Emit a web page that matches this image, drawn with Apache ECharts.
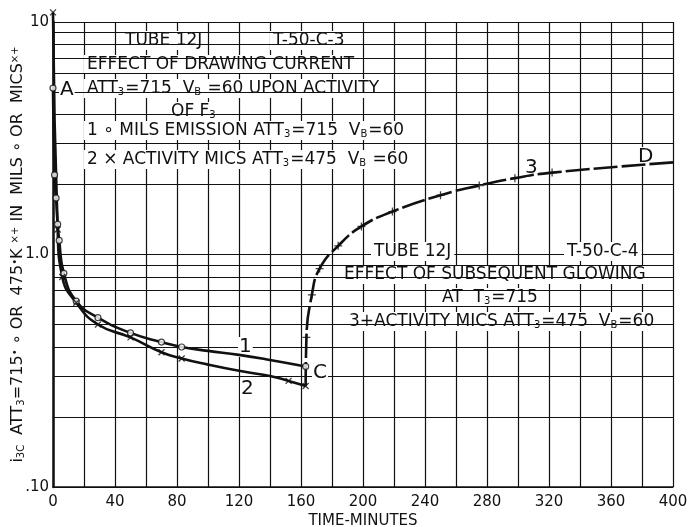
<!DOCTYPE html>
<html>
<head>
<meta charset="utf-8">
<script src="https://cdn.jsdelivr.net/npm/echarts@6/dist/echarts.min.js"></script>
<style>
  html, body { margin: 0; padding: 0; background: #fff; }
  #chart { width: 691px; height: 527px; }
</style>
</head>
<body>
<div id="chart"></div>
<script>
  // curve 1: mils emission
  var time1 = [0, 1, 2, 3, 4, 7, 15, 29, 50, 70, 83, 100, 120, 140, 163];
  var mils1 = [5.2, 2.2, 1.75, 1.35, 1.15, 0.83, 0.63, 0.535, 0.46, 0.42, 0.40, 0.385, 0.37, 0.352, 0.33];
  // circle marks on curve 1
  var circleT = [0, 1, 2, 3, 4, 7, 15, 29, 50, 70, 83, 163];
  var circleV = [5.2, 2.2, 1.75, 1.35, 1.15, 0.83, 0.63, 0.535, 0.46, 0.42, 0.40, 0.33];

  // curve 2: activity mics
  var time2 = [0, 3, 6, 15, 29, 50, 70, 83, 100, 120, 140, 152, 163];
  var mics2 = [11, 1.28, 0.80, 0.62, 0.50, 0.44, 0.38, 0.357, 0.336, 0.316, 0.30, 0.286, 0.272];
  // cross marks on curve 2
  var crossT = [0, 3, 6, 15, 29, 50, 70, 83, 152, 163];
  var crossV = [11, 1.28, 0.80, 0.62, 0.50, 0.44, 0.38, 0.357, 0.286, 0.272];

  // curve 3: activity after glowing
  var time3 = [163, 163.5, 167, 172, 184, 199, 219, 250, 275, 298, 322, 400];
  var mics3 = [0.272, 0.44, 0.67, 0.87, 1.09, 1.32, 1.53, 1.80, 1.98, 2.13, 2.25, 2.49];
  // plus marks on curve 3
  var plusT = [163.5, 167, 172, 184, 199, 219, 250, 275, 298, 322];
  var plusV = [0.44, 0.67, 0.87, 1.09, 1.32, 1.53, 1.80, 1.98, 2.13, 2.25];

  var minorY = [0.2, 0.3, 0.4, 0.5, 0.6, 0.7, 0.8, 0.9, 2, 3, 4, 5, 6, 7, 8, 9];
  var xLabels = [0, 40, 80, 120, 160, 200, 240, 280, 320, 360, 400];

  function pairs(xs, ys) {
    return xs.map(function (x, i) { return [x, ys[i]]; });
  }

  var chartDom = document.getElementById('chart');
  var myChart = echarts.init(chartDom, null, { renderer: 'canvas' });

  var FONT = 'DejaVu Sans';
  var rich = {
    s: { fontFamily: FONT, fontSize: 10, verticalAlign: 'bottom', lineHeight: 10, padding: [0, 1, 0, 0] }
  };

  function note(text, left, y, size) {
    return {
      type: 'text',
      left: left,
      top: y - 10,
      z: 5,
      silent: true,
      style: {
        text: text,
        fontFamily: FONT,
        fontSize: size || 17,
        fill: '#111',
        backgroundColor: '#fff',
        padding: [1, 3],
        rich: rich
      }
    };
  }

  function label(text, left, y) {
    return {
      type: 'text', left: left, top: y - 10, z: 6, silent: true,
      style: { text: text, fontFamily: FONT, fontSize: 20, fill: '#111', backgroundColor: '#fff', padding: [0, 1] }
    };
  }

  var crossSym = 'path://M0 0L10 10M10 0L0 10';
  var plusSym = 'path://M5 0L5 10M0 5L10 5';

  var option = {
    backgroundColor: '#fff',
    animation: false,
    grid: { left: 53, right: 18, top: 22, bottom: 40, outerBoundsMode: 'none', containLabel: false },
    xAxis: {
      type: 'value',
      min: 0,
      max: 400,
      interval: 20,
      name: 'TIME-MINUTES',
      nameLocation: 'middle',
      nameGap: 27,
      nameMoveOverlap: false,
      nameTextStyle: { fontFamily: FONT, fontSize: 15, color: '#111' },
      axisLine: { lineStyle: { color: '#111', width: 1.5 } },
      axisTick: { show: false },
      axisLabel: {
        fontFamily: FONT, fontSize: 15, color: '#111', margin: 8,
        formatter: function (v) { return xLabels.indexOf(v) >= 0 ? String(v) : ''; }
      },
      splitLine: { show: true, lineStyle: { color: '#111', width: 1.2 } }
    },
    yAxis: {
      type: 'log',
      logBase: 10,
      min: 0.1,
      max: 10,
      name: 'i{ss|3C}  ATT{ss|3}=715{sp|•} ∘ OR  475{sp|•}K {sp|×+} IN  MILS ∘ OR  MICS{sp|×+}',
      nameLocation: 'middle',
      nameGap: 27,
      nameMoveOverlap: false,
      nameRotate: 90,
      nameTextStyle: {
        fontFamily: FONT, fontSize: 16, color: '#111',
        rich: {
          ss: { fontFamily: FONT, fontSize: 10, color: '#111', verticalAlign: 'bottom', lineHeight: 10 },
          sp: { fontFamily: FONT, fontSize: 10, color: '#111', verticalAlign: 'top', lineHeight: 10 }
        }
      },
      axisLine: { show: true, lineStyle: { color: '#111', width: 2.5 } },
      axisTick: { show: false },
      axisLabel: {
        fontFamily: FONT, fontSize: 15, color: '#111', margin: 4,
        formatter: function (v) {
          if (v >= 9.99) return '10';
          if (v >= 0.99) return '1.0';
          return '.10';
        }
      },
      splitLine: { show: true, lineStyle: { color: '#111', width: 1.2 } }
    },
    graphic: [
      note('TUBE 12J', 122, 41),
      note('T-50-C-3', 270, 41),
      note('EFFECT OF DRAWING CURRENT', 84, 65),
      note('ATT{s|3}=715  V{s|B} =60 UPON ACTIVITY', 84, 89),
      note('OF F{s|3}', 168, 112),
      note('1 ∘ MILS EMISSION ATT{s|3}=715  V{s|B}=60', 84, 131),
      note('2 × ACTIVITY MICS ATT{s|3}=475  V{s|B} =60', 84, 160),
      note('TUBE 12J', 371, 252),
      note('T-50-C-4', 564, 252),
      note('EFFECT OF SUBSEQUENT GLOWING', 341, 275),
      note('AT  T{s|3}=715', 439, 298),
      note('3+ACTIVITY MICS ATT{s|3}=475  V{s|B}=60', 346, 322),
      label('A', 59, 90),
      label('1', 238, 347),
      label('2', 240, 389),
      label('3', 524, 168),
      label('C', 312, 373),
      label('D', 637, 157)
    ],
    series: [
      {
        name: 'grid',
        type: 'line',
        data: [],
        z: 1,
        markLine: {
          silent: true,
          symbol: ['none', 'none'],
          label: { show: false },
          lineStyle: { color: '#111', width: 1.2, type: 'solid' },
          data: minorY.map(function (v) { return { yAxis: v }; })
        }
      },
      {
        name: 'curve 1', type: 'line', z: 8, clip: false,
        data: pairs(time1, mils1),
        smooth: 0.5,
        showSymbol: false,
        lineStyle: { color: '#111', width: 2.6 }
      },
      {
        name: 'curve 2', type: 'line', z: 8, clip: false,
        data: pairs(time2, mics2),
        smooth: 0.5,
        showSymbol: false,
        lineStyle: { color: '#111', width: 2.6 }
      },
      {
        name: 'curve 3', type: 'line', z: 8, clip: false,
        data: pairs(time3, mics3),
        smooth: 0.5,
        showSymbol: false,
        lineStyle: { color: '#111', width: 2.6, type: [24, 4] }
      },
      {
        name: 'mils', type: 'scatter', z: 9, clip: false,
        data: pairs(circleT, circleV),
        symbol: 'circle', symbolSize: 6,
        itemStyle: { color: '#fff', borderColor: '#111', borderWidth: 1.2 }
      },
      {
        name: 'mics', type: 'scatter', z: 9, clip: false,
        data: pairs(crossT, crossV),
        symbol: crossSym, symbolSize: 6,
        itemStyle: { color: 'none', borderColor: '#111', borderWidth: 1.3 }
      },
      {
        name: 'mics glow', type: 'scatter', z: 9, clip: false,
        data: pairs(plusT, plusV),
        symbol: plusSym, symbolSize: 8,
        itemStyle: { color: 'none', borderColor: '#111', borderWidth: 1.3 }
      }
    ]
  };

  myChart.setOption(option);
  window.addEventListener('resize', myChart.resize);
</script>
</body>
</html>
